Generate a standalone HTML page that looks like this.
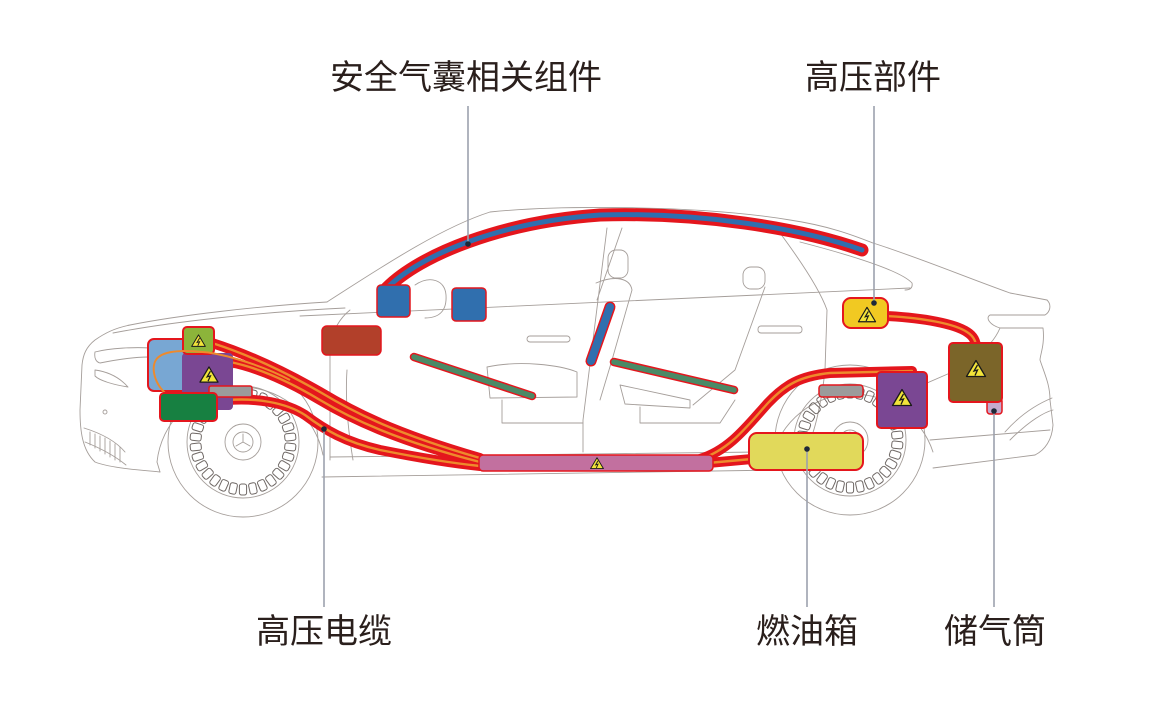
<!DOCTYPE html>
<html><head><meta charset="utf-8">
<style>
html,body{margin:0;padding:0;background:#fff;}
svg{display:block;}
text{font-family:"Liberation Sans","Noto Sans CJK SC",sans-serif;font-size:34px;fill:#2a1f1c;text-anchor:middle;}
</style></head><body>
<svg width="1160" height="721" viewBox="0 0 1160 721" xmlns="http://www.w3.org/2000/svg">
<defs>
<g id="warn">
 <polygon points="0,-8.5 9.5,7.5 -9.5,7.5" fill="#f2e43a" stroke="#1a1a1a" stroke-width="1.3" stroke-linejoin="round"/>
 <polyline points="1.5,-4 -2,2 1.5,1 -1,6.5" fill="none" stroke="#1a1a1a" stroke-width="1.3"/>
</g>
<rect id="cell" x="-3.6" y="-53" width="7.2" height="11" rx="2.2" fill="none" stroke="#6f6865" stroke-width="1"/>
<g id="wheel">
 <circle r="75" fill="none"/>
 <circle r="56" fill="none"/>
 <use href="#cell" transform="rotate(0)"/>
 <use href="#cell" transform="rotate(12)"/>
 <use href="#cell" transform="rotate(24)"/>
 <use href="#cell" transform="rotate(36)"/>
 <use href="#cell" transform="rotate(48)"/>
 <use href="#cell" transform="rotate(60)"/>
 <use href="#cell" transform="rotate(72)"/>
 <use href="#cell" transform="rotate(84)"/>
 <use href="#cell" transform="rotate(96)"/>
 <use href="#cell" transform="rotate(108)"/>
 <use href="#cell" transform="rotate(120)"/>
 <use href="#cell" transform="rotate(132)"/>
 <use href="#cell" transform="rotate(144)"/>
 <use href="#cell" transform="rotate(156)"/>
 <use href="#cell" transform="rotate(168)"/>
 <use href="#cell" transform="rotate(180)"/>
 <use href="#cell" transform="rotate(192)"/>
 <use href="#cell" transform="rotate(204)"/>
 <use href="#cell" transform="rotate(216)"/>
 <use href="#cell" transform="rotate(228)"/>
 <use href="#cell" transform="rotate(240)"/>
 <use href="#cell" transform="rotate(252)"/>
 <use href="#cell" transform="rotate(264)"/>
 <use href="#cell" transform="rotate(276)"/>
 <use href="#cell" transform="rotate(288)"/>
 <use href="#cell" transform="rotate(300)"/>
 <use href="#cell" transform="rotate(312)"/>
 <use href="#cell" transform="rotate(324)"/>
 <use href="#cell" transform="rotate(336)"/>
 <use href="#cell" transform="rotate(348)"/>
 <circle r="18" fill="none"/>
 <circle r="10" fill="none"/>
 <path d="M0,0 L0,-8 M0,0 L7,4 M0,0 L-7,4"/>
</g>
</defs>

<!-- car outline -->
<g fill="none" stroke="#a59e9a" stroke-width="0.9" stroke-linecap="round" stroke-linejoin="round">
 <path d="M327,302 C380,268 440,228 490,212 C560,205 700,205 790,220 C830,226 855,236 873,243 C920,258 960,275 1010,293 L1047,300"/>
 <path d="M327,302 C260,306 180,315 130,325 C115,328 105,333 95,340 C86,347 83,355 82,365 L80,410 C80,430 82,450 95,462 C110,468 140,470 160,472"/>
 <path d="M113,333 C170,322 260,312 345,308"/>
 <path d="M95,352 C110,348 135,347 150,348 M95,352 C94,358 96,362 100,363 C115,360 135,357 148,357"/>
 <path d="M95,370 C110,372 120,378 128,387 C115,385 100,381 95,376 Z"/>
 <path d="M84,428 C100,433 115,440 125,452 M85,442 C100,448 115,456 126,465"/>
 <path d="M90,432 L90,445 M95,434 L95,448 M100,436 L100,451 M105,438 L105,454 M110,441 L110,457 M115,444 L115,460 M120,447 L120,462"/>
 <circle cx="105" cy="412" r="2"/>
 <path d="M157,462 A84,84 0 0 1 323,455"/>
 <path d="M770,466 A84,84 0 0 1 933,452"/>
 <path d="M322,477 L780,470 M330,457 L760,452 M160,472 L157,462 M933,468 L1035,455"/>
 <path d="M350,310 C340,318 333,330 330,345 L330,460"/>
 <path d="M353,460 C348,430 345,400 347,370"/>
 <path d="M415,285 C430,275 445,280 446,295 C447,310 440,318 425,318"/>
 <path d="M300,316 L910,288"/>
 <path d="M607,228 L583,420 L583,452 M622,228 L597,300"/>
 <rect x="608" y="250" width="20" height="28" rx="8"/>
 <path d="M596,283 C615,275 630,278 632,290 L612,360 L600,400"/>
 <path d="M487,367 C520,360 560,365 577,372 L577,397 L490,398 Z"/>
 <path d="M502,400 L502,423 L583,423"/>
 <rect x="743" y="267" width="22" height="22" rx="8"/>
 <path d="M765,287 L735,370 L693,405"/>
 <path d="M620,385 L690,400 L690,408 L625,404 Z"/>
 <path d="M640,407 L640,423 L720,423 L735,400"/>
 <rect x="527" y="336" width="43" height="6" rx="3"/>
 <rect x="758" y="326" width="44" height="7" rx="3"/>
 <path d="M780,233 C800,260 820,290 827,310 L825,370 C822,400 815,430 810,440"/>
 <path d="M800,242 C850,255 900,270 912,283 C913,288 910,290 905,290"/>
 <path d="M1047,300 C1052,305 1050,312 1045,315 L990,315 C985,318 990,325 1000,328 L1043,328 C1045,345 1040,355 1040,360 C1045,375 1050,385 1050,400 L1053,425 C1052,440 1045,450 1035,455"/>
 <path d="M930,440 L1050,430 M927,383 L950,373"/>
 <path d="M1000,328 C995,340 985,350 980,352 M1005,432 C1020,415 1035,405 1052,398 M1010,440 C1030,420 1045,412 1053,410"/>
 <g transform="translate(243,442)"><use href="#wheel"/></g>
 <g transform="translate(850,440)"><use href="#wheel"/></g>
</g>

<!-- airbag curtain -->
<path d="M387,288 C420,255 500,222 600,215 C700,212 800,228 862,250" fill="none" stroke="#e4161d" stroke-width="13" stroke-linecap="round"/>
<path d="M387,288 C420,255 500,222 600,215 C700,212 800,228 862,250" fill="none" stroke="#2f6fae" stroke-width="5" stroke-linecap="round"/>

<!-- green bars & blue diagonal -->
<g stroke-linecap="round" fill="none">
 <path d="M414,357 L532,396" stroke="#e4161d" stroke-width="8.5"/>
 <path d="M414,357 L532,396" stroke="#4a8a66" stroke-width="5.5"/>
 <path d="M614,362 L734,390" stroke="#e4161d" stroke-width="8.5"/>
 <path d="M614,362 L734,390" stroke="#4a8a66" stroke-width="5.5"/>
 <path d="M610,307 L591,361" stroke="#e4161d" stroke-width="11"/>
 <path d="M610,307 L591,361" stroke="#2f6fae" stroke-width="8"/>
</g>

<!-- cables -->
<g fill="none" stroke-linecap="round">
 <g stroke="#e4161d" stroke-width="10">
  <path d="M212,343 C250,355 285,372 320,392 C350,410 390,432 480,458"/>
  <path d="M230,362 C260,368 290,382 320,400 C350,418 395,440 480,462"/>
  <path d="M228,400 C255,398 285,402 305,415 C325,430 345,442 380,450 C420,458 450,463 480,466"/>
  <path d="M700,459 C730,450 748,425 768,403 C785,385 800,376 830,373 L912,371"/>
  <path d="M708,463 L752,459"/>
  <path d="M886,316 C925,318 955,324 967,332 C975,337 976,343 976,348"/>
 </g>
 <g stroke="#ee8a2c" stroke-width="2.4">
  <path d="M212,343 C250,355 285,372 320,392 C350,410 390,432 480,458"/>
  <path d="M230,362 C260,368 290,382 320,400 C350,418 395,440 480,462"/>
  <path d="M228,400 C255,398 285,402 305,415 C325,430 345,442 380,450 C420,458 450,463 480,466"/>
  <path d="M700,459 C730,450 748,425 768,403 C785,385 800,376 830,373 L912,371"/>
  <path d="M708,463 L752,459"/>
  <path d="M886,316 C925,318 955,324 967,332 C975,337 976,343 976,348"/>
 </g>
</g>

<!-- front components -->
<rect x="148" y="339" width="52" height="52" rx="6" fill="#78a7d3" stroke="#e4161d" stroke-width="2"/>
<rect x="182" y="353" width="51" height="57" rx="4" fill="#7a4793"/>
<use href="#warn" transform="translate(209,375) scale(0.95)"/>
<rect x="183" y="327" width="31" height="27" rx="4" fill="#8cb43a" stroke="#e4161d" stroke-width="2"/>
<use href="#warn" transform="translate(198.5,341) scale(0.72)"/>
<rect x="209" y="386" width="43" height="11" rx="2" fill="#9b9b9b" stroke="#e4161d" stroke-width="1.5"/>
<path d="M165,393 C152,380 150,362 160,356 C172,348 210,350 240,360 C260,366 275,372 290,380" fill="none" stroke="#ee8a2c" stroke-width="2"/>
<rect x="160" y="393" width="57" height="28" rx="4" fill="#178041" stroke="#e4161d" stroke-width="2"/>

<!-- cabin components -->
<rect x="322" y="326" width="59" height="29" rx="5" fill="#b2402a" stroke="#e4161d" stroke-width="1.5"/>
<rect x="377" y="285" width="33" height="32" rx="4" fill="#306fae" stroke="#e4161d" stroke-width="1.5"/>
<rect x="452" y="288" width="34" height="33" rx="4" fill="#306fae" stroke="#e4161d" stroke-width="1.5"/>

<!-- battery -->
<rect x="479" y="455" width="234" height="16" rx="4" fill="#c2709f" stroke="#e4161d" stroke-width="1.5"/>
<use href="#warn" transform="translate(597,463.5) scale(0.68)"/>

<!-- rear components -->
<rect x="749" y="433" width="114" height="37" rx="8" fill="#e1d95b" stroke="#e4161d" stroke-width="2"/>
<rect x="819" y="385" width="44" height="12" rx="3" fill="#9b9b9b" stroke="#e4161d" stroke-width="1.5"/>
<rect x="877" y="372" width="50" height="56" rx="4" fill="#7a4793" stroke="#e4161d" stroke-width="2"/>
<use href="#warn" transform="translate(902,398)"/>
<rect x="843" y="298" width="45" height="30" rx="8" fill="#f1c922" stroke="#e4161d" stroke-width="2"/>
<use href="#warn" transform="translate(867,315) scale(0.9)"/>
<rect x="987" y="398" width="15" height="16" rx="3" fill="#c5aacd" stroke="#e4161d" stroke-width="1.5"/>
<rect x="949" y="343" width="53" height="59" rx="4" fill="#7b6529" stroke="#e4161d" stroke-width="2"/>
<use href="#warn" transform="translate(976,369)"/>

<!-- leader lines -->
<g stroke="#9ca1ad" stroke-width="1.6">
 <line x1="468" y1="106" x2="468" y2="244"/>
 <line x1="874" y1="106" x2="874" y2="303"/>
 <line x1="324" y1="429" x2="324" y2="607"/>
 <line x1="807" y1="449" x2="807" y2="607"/>
 <line x1="994" y1="411" x2="994" y2="607"/>
</g>
<g fill="#1e2838">
 <circle cx="468" cy="244" r="2.8"/>
 <circle cx="874" cy="303" r="2.8"/>
 <circle cx="324" cy="429" r="2.8"/>
 <circle cx="807" cy="449" r="2.8"/>
 <circle cx="994" cy="411" r="2.8"/>
</g>

<!-- labels -->
<text x="466" y="89">安全气囊相关组件</text>
<text x="873" y="89">高压部件</text>
<text x="324" y="643">高压电缆</text>
<text x="807" y="643">燃油箱</text>
<text x="995" y="643">储气筒</text>
</svg>
</body></html>
